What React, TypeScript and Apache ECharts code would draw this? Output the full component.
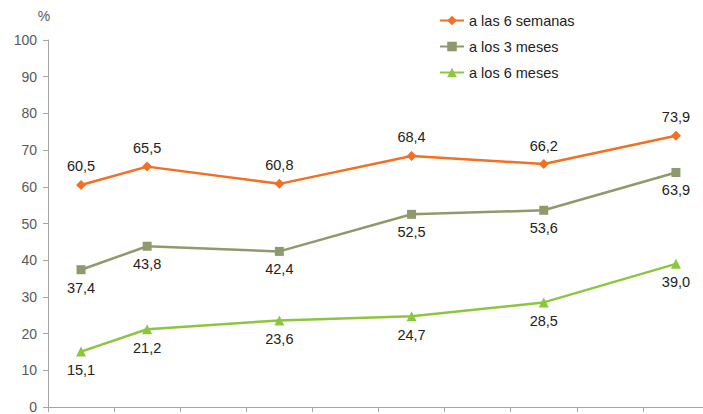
import React, { useEffect, useRef } from "react";
import * as echarts from "echarts";

const categories = ["1", "2", "3", "4", "5", "6", "7", "8", "9", "10"];
const seisSemanas = [60.5, 65.5, null, 60.8, null, 68.4, null, 66.2, null, 73.9];
const tresMeses = [37.4, 43.8, null, 42.4, null, 52.5, null, 53.6, null, 63.9];
const seisMeses = [15.1, 21.2, null, 23.6, null, 24.7, null, 28.5, null, 39.0];
const seriesNames = ["a las 6 semanas", "a los 3 meses", "a los 6 meses"];
const yTicks = [0, 10, 20, 30, 40, 50, 60, 70, 80, 90, 100];

const fmt = (v: number) => v.toFixed(1).replace(".", ",");

export default function App() {
  const ref = useRef<HTMLDivElement>(null);
  useEffect(() => {
    if (!ref.current) return;
    const chart = echarts.init(ref.current, null, { renderer: "svg" });
    const labelStyle = (position: string) => ({
      show: true,
      position,
      fontFamily: "Liberation Sans, Arial, sans-serif",
      fontSize: 14.5,
      color: "#222222",
      distance: 6,
      formatter: (p: any) => fmt(p.value),
    });
    chart.setOption({
      animation: false,
      backgroundColor: "#ffffff",
      grid: { left: 48, right: 11, top: 40, bottom: 7, containLabel: false },
      legend: {
        orient: "vertical",
        left: 434,
        top: 8,
        itemWidth: 24,
        itemHeight: 12,
        itemGap: 11,
        data: seriesNames,
        textStyle: {
          fontFamily: "Liberation Sans, Arial, sans-serif",
          fontSize: 14.5,
          color: "#222222",
        },
      },
      xAxis: {
        type: "category",
        data: categories,
        boundaryGap: true,
        axisLine: { lineStyle: { color: "#a6a6a6", width: 1 } },
        axisTick: { show: true, length: 5, lineStyle: { color: "#a6a6a6" } },
        axisLabel: { show: false },
      },
      yAxis: {
        type: "value",
        min: 0,
        max: 100,
        interval: 10,
        name: "%",
        nameGap: 17,
        nameTextStyle: {
          fontFamily: "Liberation Sans, Arial, sans-serif",
          fontSize: 14,
          color: "#595959",
          align: "center",
          padding: [0, 8, 0, 0],
        },
        splitLine: { show: false },
        axisLine: { show: true, lineStyle: { color: "#a6a6a6", width: 1 } },
        axisTick: { show: true, length: 5, lineStyle: { color: "#a6a6a6" } },
        axisLabel: {
          fontFamily: "Liberation Sans, Arial, sans-serif",
          fontSize: 14,
          color: "#595959",
          margin: 11,
          formatter: (v: number) => (yTicks.includes(v) ? String(v) : ""),
        },
      },
      series: [
        {
          name: seriesNames[0],
          type: "line",
          connectNulls: true,
          data: seisSemanas,
          symbol: "diamond",
          symbolSize: 10,
          itemStyle: { color: "#F36F21" },
          lineStyle: { color: "#F36F21", width: 2.5 },
          label: labelStyle("top"),
        },
        {
          name: seriesNames[1],
          type: "line",
          connectNulls: true,
          data: tresMeses,
          symbol: "rect",
          symbolSize: 9,
          itemStyle: { color: "#8E9A6C" },
          lineStyle: { color: "#8E9A6C", width: 2.5 },
          label: labelStyle("bottom"),
        },
        {
          name: seriesNames[2],
          type: "line",
          connectNulls: true,
          data: seisMeses,
          symbol: "triangle",
          symbolSize: 10,
          itemStyle: { color: "#8CC63E" },
          lineStyle: { color: "#8CC63E", width: 2.5 },
          label: labelStyle("bottom"),
        },
      ],
    });
    return () => chart.dispose();
  }, []);
  return (
    <div
      style={{
        position: "absolute",
        left: 0,
        top: 0,
        width: 703,
        height: 414,
        overflow: "hidden",
      }}
    >
      <div ref={ref} style={{ width: 720, height: 414 }} />
    </div>
  );
}
